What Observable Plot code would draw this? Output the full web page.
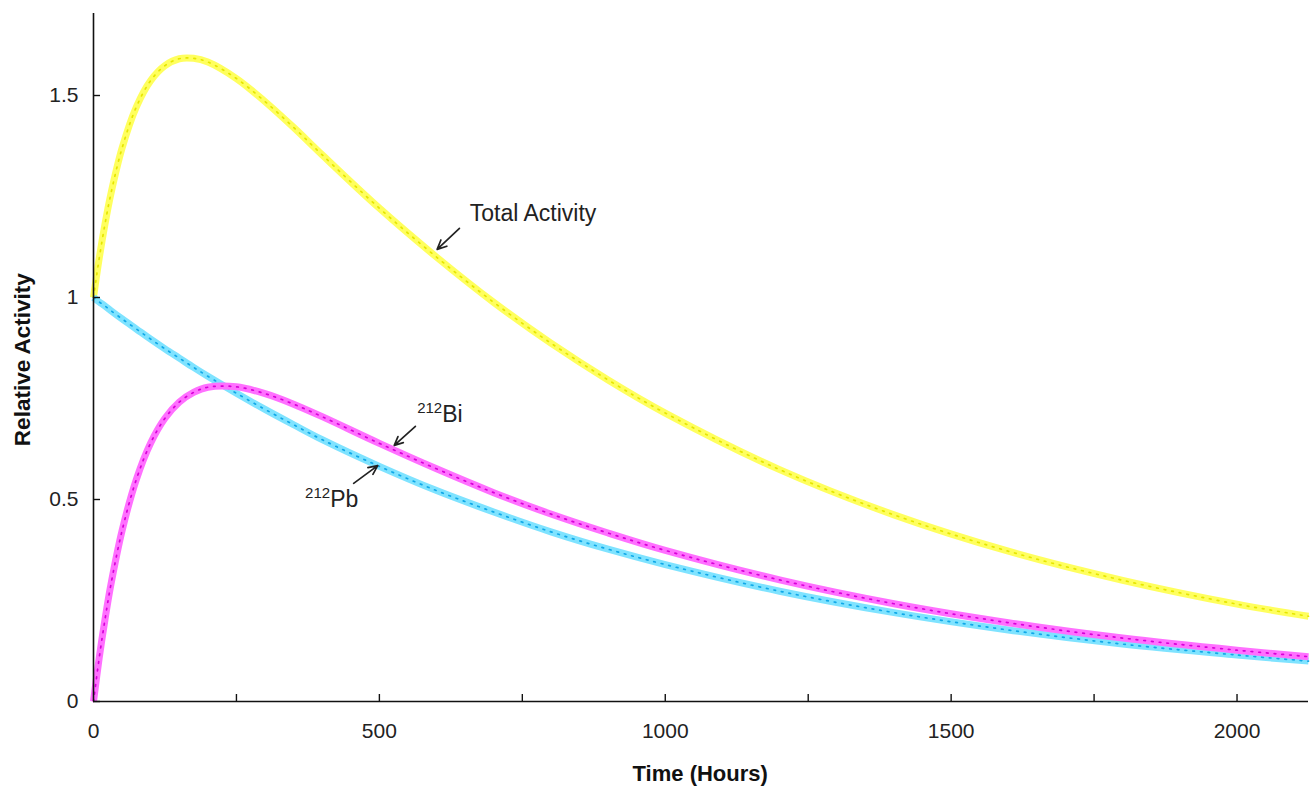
<!DOCTYPE html>
<html>
<head>
<meta charset="utf-8">
<script src="https://cdn.jsdelivr.net/npm/d3@7"></script>
<script src="https://cdn.jsdelivr.net/npm/@observablehq/plot@0.6"></script>
<style>
  html, body { margin: 0; padding: 0; background: #fff; }
  #chart svg { display: block; }
</style>
</head>
<body>
<div id="chart"></div>
<script>
// Time (hours) sample points
const times = [0, 10, 20, 30, 50, 75, 100, 125, 150, 175, 200, 250, 300, 350, 400, 500, 600, 700, 800, 900, 1000, 1200, 1400, 1600, 1800, 2000, 2125];
// 212Pb relative activity
const pb = [1.000, 0.989, 0.979, 0.968, 0.947, 0.922, 0.897, 0.873, 0.850, 0.827, 0.805, 0.763, 0.723, 0.685, 0.648, 0.582, 0.522, 0.469, 0.420, 0.377, 0.339, 0.273, 0.220, 0.177, 0.142, 0.115, 0.100];
// 212Bi relative activity
const bi = [0.000, 0.108, 0.202, 0.286, 0.423, 0.550, 0.640, 0.701, 0.741, 0.765, 0.778, 0.779, 0.762, 0.736, 0.705, 0.639, 0.576, 0.517, 0.464, 0.417, 0.374, 0.301, 0.242, 0.195, 0.157, 0.127, 0.111];
// Total activity
const total = [1.000, 1.097, 1.181, 1.254, 1.370, 1.472, 1.537, 1.574, 1.591, 1.592, 1.583, 1.542, 1.485, 1.421, 1.353, 1.221, 1.100, 0.988, 0.887, 0.796, 0.714, 0.574, 0.462, 0.372, 0.300, 0.241, 0.211];

const xTicks = [250, 500, 750, 1000, 1250, 1500, 1750, 2000];
const xLabels = [0, 500, 1000, 1500, 2000];
const yTicks = [0, 0.5, 1, 1.5];

const series = [
  {name: "Total Activity", values: total, band: "#ffff5e", dots: "#e6e600"},
  {name: "212Pb", values: pb, band: "#7fe3ff", dots: "#10a8e8"},
  {name: "212Bi", values: bi, band: "#ff70ff", dots: "#d800d8"}
];
const rows = series.flatMap(s => times.map((t, i) => ({series: s.name, t, v: s.values[i]})));

// annotation arrows: tail (t1,v1) -> head (t2,v2)
const arrowsData = [
  {t1: 640, v1: 1.171, t2: 601, v2: 1.119},
  {t1: 563, v1: 0.681, t2: 526, v2: 0.634},
  {t1: 455, v1: 0.540, t2: 497, v2: 0.584}
];
// annotation labels
const labelDefs = [
  {t: 659, v: 1.188, sup: "", text: "Total Activity"},
  {t: 567, v: 0.690, sup: "212", text: "Bi"},
  {t: 371, v: 0.480, sup: "212", text: "Pb"}
];

const W = 1312, H = 786;
const mL = 93, mR = 4, mT = 13, mB = 85;
const frameW = W - mL - mR, frameH = H - mT - mB;

const marks = [];
for (const s of series) {
  const data = rows.filter(r => r.series === s.name);
  marks.push(Plot.line(data, {x: "t", y: "v", stroke: s.band, strokeWidth: 7, curve: "catmull-rom", strokeLinecap: "butt"}));
  marks.push(Plot.line(data, {x: "t", y: "v", stroke: s.dots, strokeWidth: 1.7, strokeDasharray: "1.7,6", curve: "catmull-rom"}));
}
marks.push(
  Plot.ruleX([0], {stroke: "#111", strokeWidth: 1.6}),
  Plot.ruleY([0], {stroke: "#111", strokeWidth: 1.6}),
  Plot.tickX(xTicks, {x: d => d, stroke: "#111", strokeWidth: 1.4, insetTop: frameH - 7}),
  Plot.tickY(yTicks, {y: d => d, stroke: "#111", strokeWidth: 1.4, insetRight: frameW - 7}),
  Plot.axisX(xLabels, {tickSize: 0, tickPadding: 22, tickFormat: d => String(d), fontSize: 21, fill: "#222", label: null}),
  Plot.axisY(yTicks, {tickSize: 0, tickPadding: 15, tickFormat: d => String(d), fontSize: 21, fill: "#222", label: null}),
  Plot.arrow(arrowsData, {x1: "t1", y1: "v1", x2: "t2", y2: "v2", stroke: "#222", strokeWidth: 1.7, headLength: 9, headAngle: 50})
);

const plot = Plot.plot({
  width: W, height: H,
  marginLeft: mL, marginRight: mR, marginTop: mT, marginBottom: mB,
  style: {fontFamily: "Liberation Sans, Arial, Helvetica, sans-serif", background: "#fff"},
  x: {domain: [0, 2125], label: null},
  y: {domain: [0, 1.703], label: null},
  marks
});

const svg = d3.select(plot);
const xs = plot.scale("x"), ys = plot.scale("y");
for (const d of labelDefs) {
  const t = svg.append("text")
    .attr("x", xs.apply(d.t)).attr("y", ys.apply(d.v))
    .attr("text-anchor", "start")
    .attr("font-family", "Liberation Sans, Arial, sans-serif")
    .attr("font-size", 23).attr("fill", "#222");
  if (d.sup) t.append("tspan").attr("font-size", 15).attr("dy", -9).text(d.sup);
  t.append("tspan").attr("dy", d.sup ? 9 : 0).text(d.text);
}
// axis titles
svg.append("text")
  .attr("x", xs.apply(1062)).attr("y", 781)
  .attr("text-anchor", "middle")
  .attr("font-family", "Liberation Sans, Arial, sans-serif")
  .attr("font-weight", "bold").attr("font-size", 22).attr("fill", "#111")
  .text("Time (Hours)");
svg.append("text")
  .attr("transform", `translate(30,${ys.apply(0.845)}) rotate(-90)`)
  .attr("text-anchor", "middle")
  .attr("font-family", "Liberation Sans, Arial, sans-serif")
  .attr("font-weight", "bold").attr("font-size", 22.5).attr("fill", "#111")
  .text("Relative Activity");

document.getElementById("chart").appendChild(plot);
</script>
</body>
</html>
